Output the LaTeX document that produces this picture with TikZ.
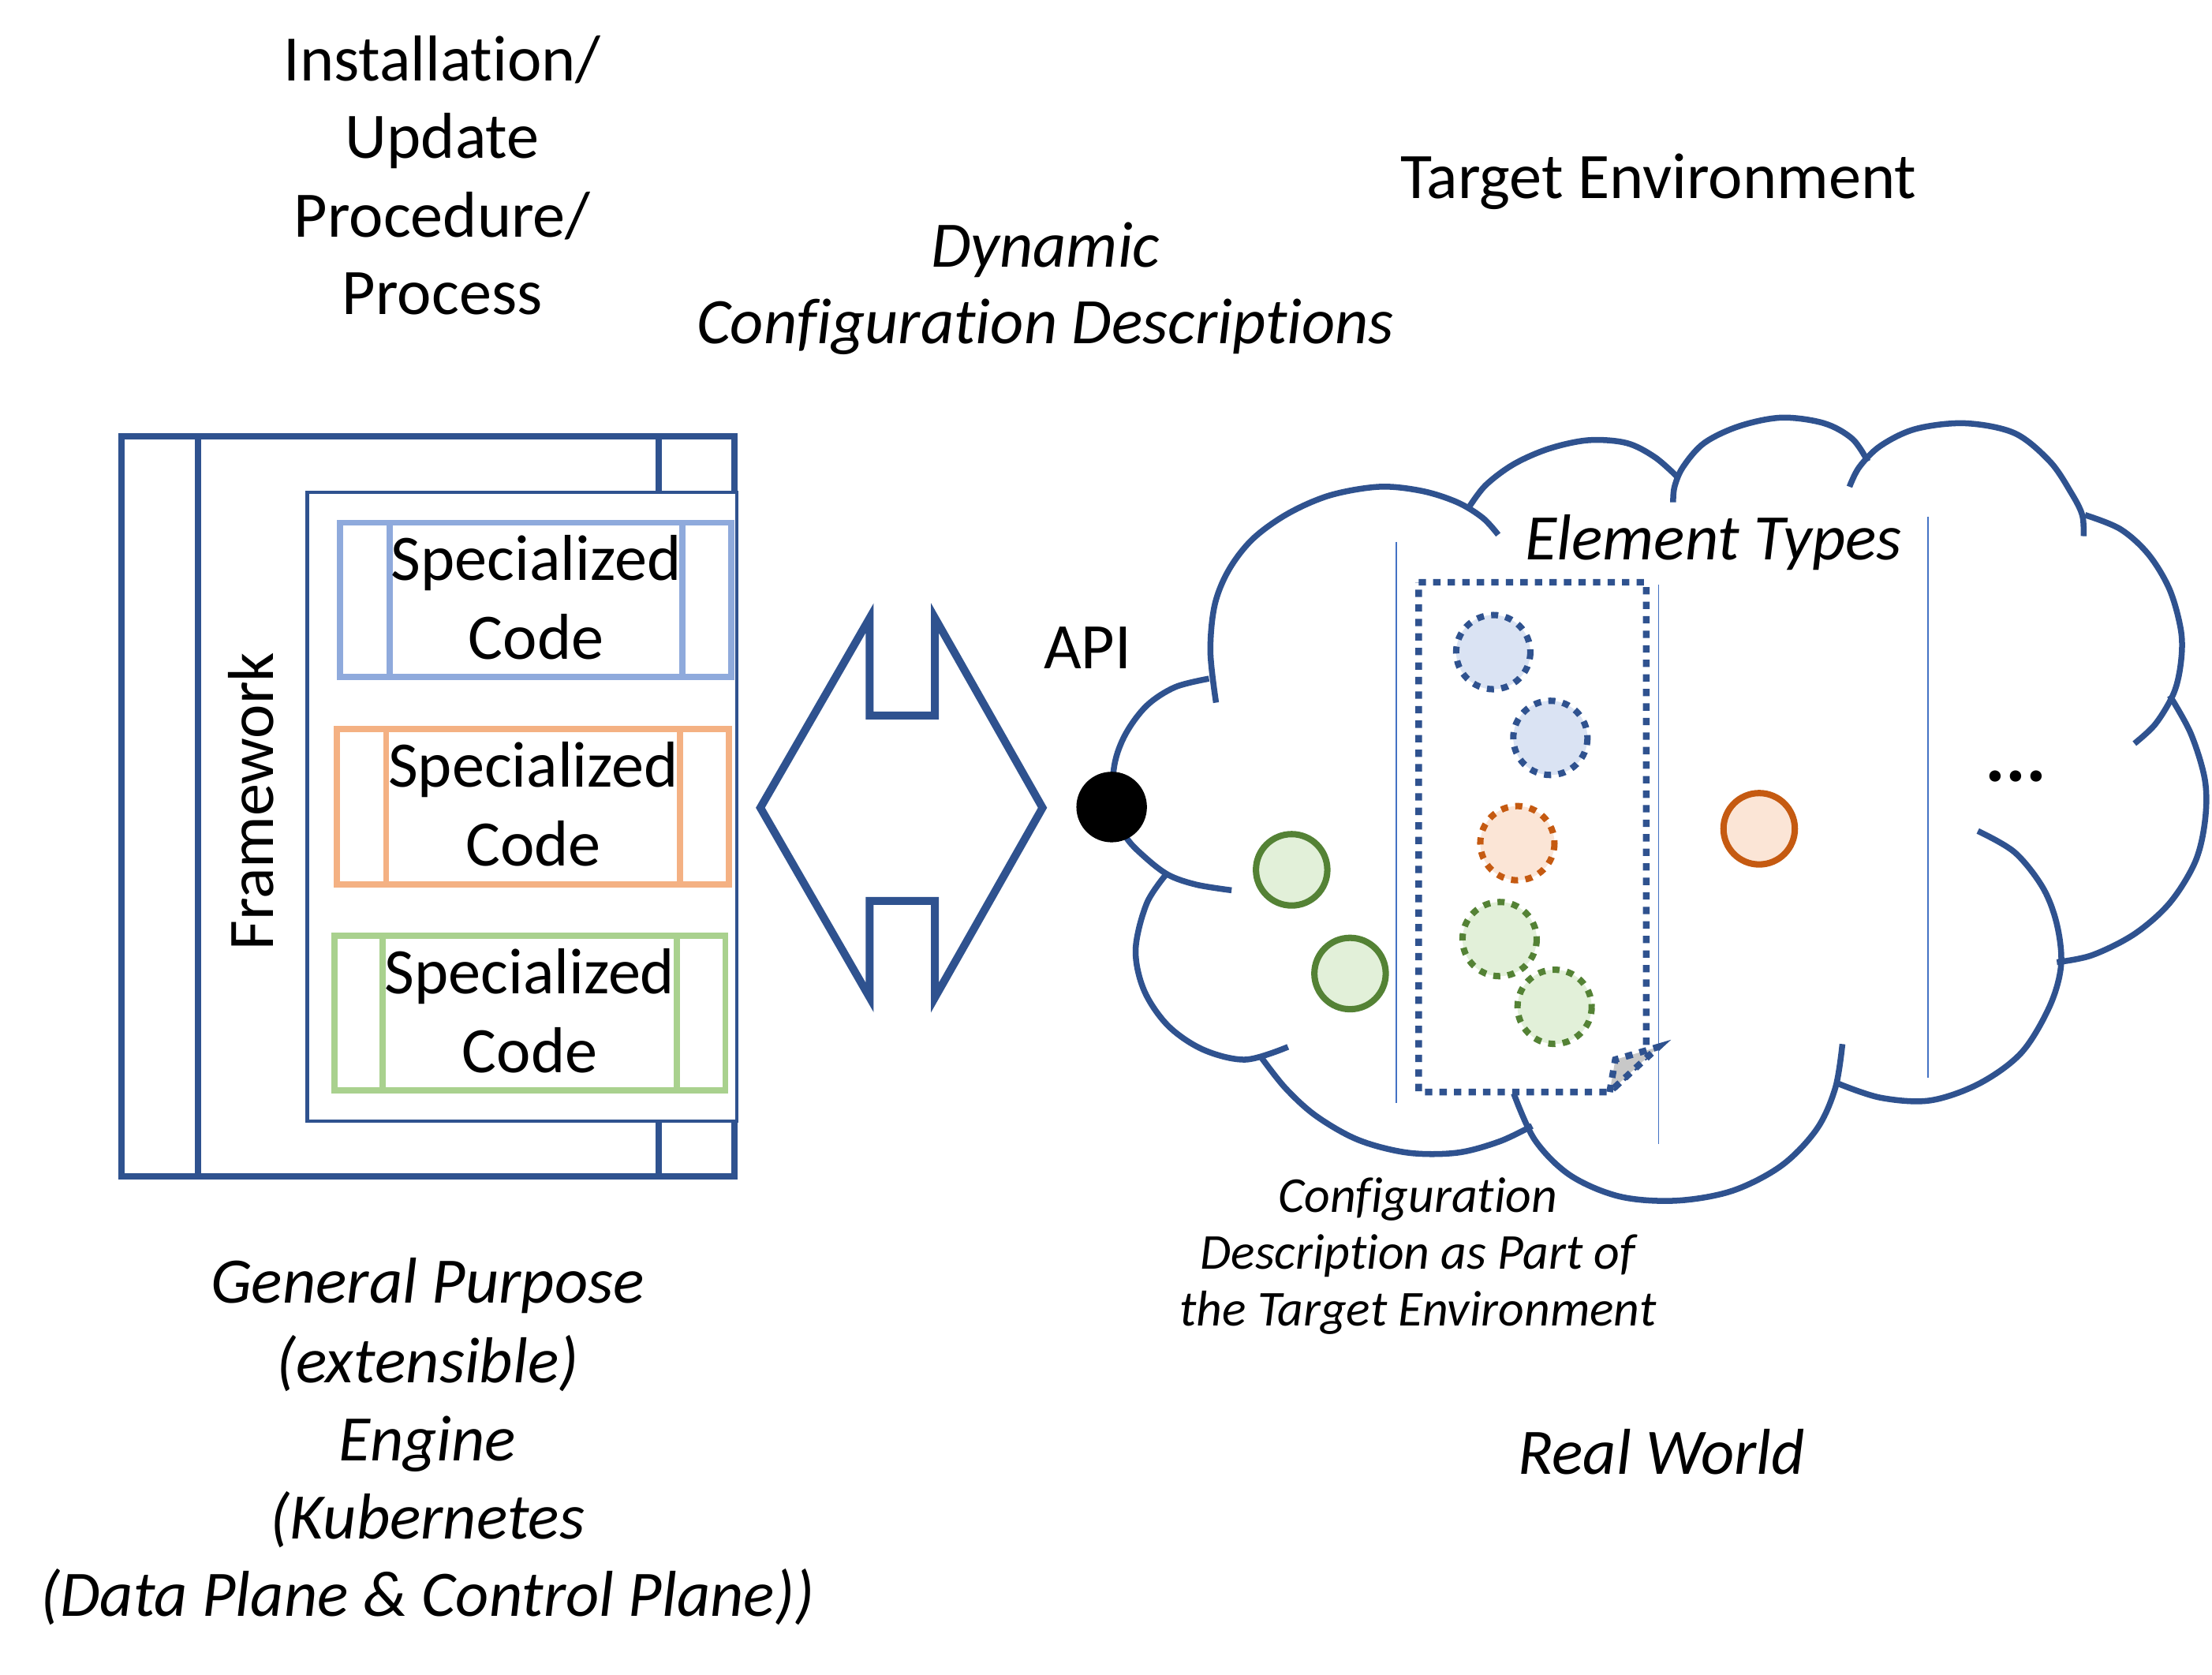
\documentclass[tikz,border=0pt]{standalone}
\usepackage{fontspec}
\setmainfont{Carlito}[Ligatures={NoCommon,NoRare}]
\definecolor{dkblue}{HTML}{2F528F}
\definecolor{ltblue}{HTML}{8FAADC}
\definecolor{ltorange}{HTML}{F4B183}
\definecolor{ltgreen}{HTML}{A9D18E}
\definecolor{thinblue}{HTML}{4472C4}
\definecolor{grnline}{HTML}{548235}
\definecolor{grnfill}{HTML}{E2F0D9}
\definecolor{orgline}{HTML}{C55A11}
\definecolor{orgfill}{HTML}{FBE5D6}
\definecolor{blufill}{HTML}{DAE3F3}
\definecolor{flapgray}{HTML}{C8C8C8}
\newcommand\fbig{\fontsize{23pt}{27.5pt}\selectfont}
\newcommand\fsmall{\fontsize{17.8pt}{20pt}\selectfont}
\newcommand\fdots{\fontsize{27pt}{30pt}\selectfont}
\begin{document}
\begin{tikzpicture}[x=0.5pt,y=-0.5pt,
  txt/.style={inner sep=0pt,anchor=base,font=\fbig},
  itxt/.style={inner sep=0pt,anchor=base,font=\fbig\itshape},
  stxt/.style={inner sep=0pt,anchor=base,font=\fsmall\itshape},
  outerfr/.style={draw=dkblue,line width=2.2pt},
  innerfr/.style={draw=dkblue,line width=1.15pt,fill=white},
  codebox/.style={line width=2.2pt},
  cloudline/.style={draw=dkblue,line width=2.1pt,smooth,tension=0.55},
  sepline/.style={draw=thinblue,line width=0.55pt},
  dotline/.style={draw=dkblue,line width=2.35pt,dash pattern=on 2.6pt off 2.55pt},
  solidc/.style={line width=2.25pt},
  dashc/.style={line width=2.25pt,dash pattern=on 2.5pt off 2.6pt},
  dblarrow/.style={draw=dkblue,line width=2.8pt,line join=miter,fill=white}
]
\useasboundingbox[fill=white] (0,0) rectangle (1568,1187);

% ---------- top-left text ----------
\node[txt] (t1) at (313.5,57.4) {Installation/};
\node[txt] (t2) at (313.5,112.2) {Update};
\node[txt] (t3) at (313.5,167.8) {Procedure/};
\node[txt] (t4) at (313.5,222.8) {Process};

\node[itxt] (d1) at (741,189.2) {Dynamic};
\node[itxt] (d2) at (741,243.8) {Configuration Descriptions};

\node[txt] (te) at (1175.5,140.8) {Target Environment};

% ---------- engine frame ----------
\draw[outerfr] (86.2,309.3) rectangle (520.8,833.7);
\draw[outerfr] (140.6,309.3) -- (140.6,833.7);
\draw[outerfr] (466.8,309.3) -- (466.8,833.7);
\draw[innerfr] (217.8,348.9) rectangle (522.5,794.5);

\node[txt,rotate=90] (fw) at (194,568) {Framework};

% specialized code boxes
\draw[codebox,draw=ltblue] (241.2,370.5) rectangle (518.5,479.9);
\draw[codebox,draw=ltblue] (276,370.5) -- (276,479.9) (483.8,370.5) -- (483.8,479.9);
\node[txt] (s1a) at (380,411.5) {Specialized};
\node[txt] (s1b) at (380,467) {Code};

\draw[codebox,draw=ltorange] (238.6,516.6) rectangle (516.5,626.7);
\draw[codebox,draw=ltorange] (273.7,516.6) -- (273.7,626.7) (482,516.6) -- (482,626.7);
\node[txt] (s2a) at (378,558) {Specialized};
\node[txt] (s2b) at (378,613.5) {Code};

\draw[codebox,draw=ltgreen] (236.9,663.3) rectangle (514.2,772.9);
\draw[codebox,draw=ltgreen] (271.4,663.3) -- (271.4,772.9) (479.6,663.3) -- (479.6,772.9);
\node[txt] (s3a) at (375.5,704.5) {Specialized};
\node[txt] (s3b) at (375.5,760) {Code};

% ---------- bottom-left text ----------
\node[itxt] (g1) at (303,923.7) {General Purpose};
\node[itxt] (g2) at (303,980.2) {(extensible)};
\node[itxt] (g3) at (303,1035.6) {Engine};
\node[itxt] (g4) at (303,1090.6) {(Kubernetes};
\node[itxt] (g5) at (303,1145.6) {(Data Plane \& Control Plane))};

% ---------- double arrow ----------
\draw[dblarrow] (539,572.5) -- (616.5,438) -- (616.5,507.1) -- (662.7,507.1) -- (662.7,438)
  -- (739,572.5) -- (662.7,707) -- (662.7,638.5) -- (616.5,638.5) -- (616.5,707) -- cycle;

\node[txt] (api) at (771,474) {API};

% ---------- cloud ----------
\draw[cloudline] plot coordinates {(873,631) (848,627) (828,620) (811,607) (798,593) (789,571) (790,542) (798,520) (813,500) (833,487) (857,481)};
\draw[cloudline] plot coordinates {(862,498) (858,462) (861,429) (871,404) (888,382) (913,364) (943,351) (978,345) (1008,348) (1033,356) (1051,367) (1062,379)};
\draw[cloudline] plot coordinates {(1041,360) (1053,344) (1073,329) (1098,318) (1126,312) (1153,314) (1173,324) (1189,338)};
\draw[cloudline] plot coordinates {(1186,356) (1187,345) (1193,331) (1208,314) (1233,302) (1263,296) (1293,300) (1313,311) (1324,327)};
\draw[cloudline] plot coordinates {(1311,345) (1318,331) (1333,316) (1358,304) (1393,300) (1428,307) (1453,327) (1468,349) (1476,365) (1477,380)};
\draw[cloudline] plot coordinates {(1478,365) (1503,375) (1523,393) (1538,418) (1546,447) (1546,469) (1541,491) (1528,513) (1513,527)};
\draw[cloudline] plot coordinates {(1538,493) (1553,520) (1563,553) (1563,582) (1556,611) (1538,640) (1513,662) (1483,677) (1458,682)};
\draw[cloudline] plot coordinates {(1402,589) (1428,604) (1448,629) (1458,655) (1461,684) (1453,713) (1433,746) (1403,768) (1368,780) (1333,778) (1303,768)};
\draw[cloudline] plot coordinates {(1306,740) (1301,771) (1288,800) (1263,826) (1228,844) (1188,851) (1148,848) (1113,833) (1088,808) (1073,775)};
\draw[cloudline] plot coordinates {(893,748) (911,771) (933,791) (963,808) (998,817) (1033,817) (1063,809) (1086,798)};
\draw[cloudline] plot coordinates {(828,618) (813,640) (805,673) (811,702) (828,727) (853,744) (883,751) (913,742)};

% separators
\draw[sepline] (989.6,384) -- (989.6,782);
\draw[sepline] (1175.7,414.5) -- (1175.7,811);
\draw[sepline] (1366.7,366) -- (1366.7,764);

% dotted configuration description
\draw[dotline] (1005.6,412.7) -- (1167,412.7) -- (1167,748) -- (1141,774) -- (1005.6,774) -- cycle;
\fill[flapgray] (1141,774) -- (1145,751) -- (1175.6,742) -- cycle;
\draw[dotline] (1141,774) -- (1145,751) -- (1175.6,742) -- cycle;

% element circles
\draw[solidc,draw=grnline,fill=grnfill] (915.6,616.5) circle (25.3);
\draw[solidc,draw=grnline,fill=grnfill] (957,690) circle (25.3);
\draw[solidc,draw=orgline,fill=orgfill] (1247,587.4) circle (25.3);

\draw[dashc,draw=dkblue,fill=blufill] (1058.5,462.2) circle (26.3);
\draw[dashc,draw=dkblue,fill=blufill] (1099,523) circle (26.3);
\draw[dashc,draw=orgline,fill=orgfill] (1075.6,597.6) circle (26.3);
\draw[dashc,draw=grnline,fill=grnfill] (1063,665.6) circle (26.3);
\draw[dashc,draw=grnline,fill=grnfill] (1102,713.6) circle (26.3);

\node[itxt] (et) at (1214.6,396.7) {Element Types};
\node[inner sep=0pt,anchor=base,font=\fdots\bfseries] (dots) at (1429,554) {...};

% API point
\fill[black] (788,572) circle (25);
\coordinate (apipt) at (788,572);

% ---------- bottom-right text ----------
\node[stxt] (c1) at (1005,859.4) {Configuration};
\node[stxt] (c2) at (1005,899.5) {Description as Part of};
\node[stxt] (c3) at (1005,939.6) {the Target Environment};

\node[itxt] (rw) at (1177.7,1044.9) {Real World};
\end{tikzpicture}
\end{document}
